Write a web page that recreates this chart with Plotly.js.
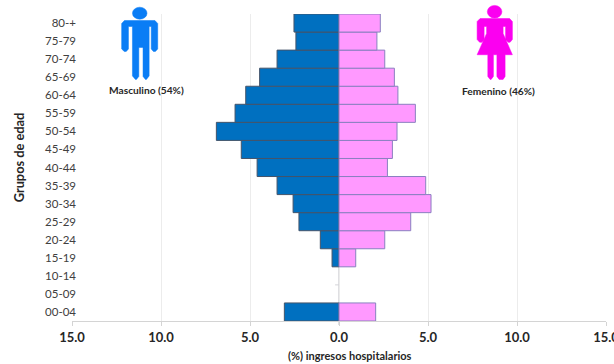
<!DOCTYPE html>
<html><head><meta charset="utf-8">
<script src="https://cdn.plot.ly/plotly-3.0.1.min.js"></script>
<style>html,body{margin:0;padding:0;background:#fff;overflow:hidden}</style></head>
<body><div id="chart" style="width:614px;height:364px;overflow:hidden"></div>
<script>
const ageGroups = ["00-04","05-09","10-14","15-19","20-24","25-29","30-34","35-39","40-44","45-49","50-54","55-59","60-64","65-69","70-74","75-79","80-+"];
const maleShare = [3.07,0,0,0.39,1.05,2.25,2.58,3.48,4.6,5.49,6.89,5.84,5.24,4.46,3.48,2.42,2.53];
const femaleShare = [2.06,0,0,0.94,2.57,4.03,5.17,4.87,2.72,3.0,3.26,4.29,3.31,3.11,2.57,2.13,2.32];
const xTicks = [-15,-10,-5,0,5,10,15];
const xTickLabels = ["15.0","10.0","5.0","0.0","5.0","10.0","15.0"];

const W=640,H=364,L=71.5,R=606,T=13.5,B=321;
const px=x=>(x-L)/(R-L), py=y=>(B-y)/(B-T);
function poly(pts){return pts.map((p,i)=>(i?'L ':'M ')+px(p[0]).toFixed(5)+' '+py(p[1]).toFixed(5)).join(' ')+' Z';}
const maleBlue='#0a7df5', femaleMag='#fb00f0';
function shp(path,color){return {type:'path',xref:'paper',yref:'paper',path:path,fillcolor:color,line:{color:color,width:0.5},layer:'above'};}
function head(cx,cy,rx,ry,color){return {type:'circle',xref:'paper',yref:'paper',x0:px(cx-rx),x1:px(cx+rx),y0:py(cy+ry),y1:py(cy-ry),fillcolor:color,line:{color:color,width:0.5},layer:'above'};}
const shapes=[
 head(139.3,12.7,7.3,6,maleBlue),
 shp(poly([[124,20],[154.5,20],[157.3,23],[157.3,48.5],[155,51],[153,51],[150.8,48.5],[150.8,26],[148.7,26],[148.7,75.5],[146,79],[145,79],[142.6,76],[142.6,47],[138.4,47],[138.4,76],[136,79],[135,79],[132,75.5],[132,26],[128,26],[128,48.5],[125.8,51],[123.8,51],[121.2,48.5],[121.2,23]]),maleBlue),
 head(494.5,11.2,7.3,6.3,femaleMag),
 shp(poly([[480,18],[509.5,18],[512.3,21],[512.3,39],[510,41.8],[508,41.8],[505.5,39],[505.5,26],[503,26],[503,33],[512.3,54.3],[505,54.3],[505,76],[503,79],[499,79],[496.8,76],[496.8,54.3],[493.3,54.3],[493.3,76],[491,79],[490,79],[487.7,76],[487.7,54.3],[477,54.3],[486.5,33],[486.5,26],[484,26],[484,39],[481.8,41.8],[479.5,41.8],[477,39],[477,21]]),femaleMag),
 {type:'line',xref:'x',yref:'paper',x0:0,x1:0,y0:py(325),y1:1,line:{color:'#d4d4d8',width:1.5},layer:'below'},
 {type:'line',xref:'x',yref:'y',x0:-0.22,x1:0,y0:1.5,y1:1.5,line:{color:'#d4d4d8',width:1},layer:'below'}
];
const outlineWidth=a=>a.map(v=>v>0?1:0);
const traces=[
 {type:'bar',orientation:'h',name:'Masculino',y:ageGroups,x:maleShare.map(v=>-v),marker:{color:'#0070c0',line:{color:'#44546a',width:outlineWidth(maleShare)}},hoverinfo:'skip'},
 {type:'bar',orientation:'h',name:'Femenino',y:ageGroups,x:femaleShare,marker:{color:'#ff99ff',line:{color:'#8a80c0',width:outlineWidth(femaleShare)}},hoverinfo:'skip'}
];
const F='Lato,"Open Sans",sans-serif';
const layout={
 width:W,height:H,showlegend:false,barmode:'relative',bargap:0,
 margin:{l:L,r:W-R,t:T,b:H-B},paper_bgcolor:'#fff',plot_bgcolor:'#fff',
 font:{family:F,color:'#404040'},
 xaxis:{range:[-15,15],tickmode:'array',tickvals:xTicks,ticktext:xTickLabels,showgrid:true,gridcolor:'#ececec',gridwidth:1,
  zeroline:false,showline:true,linecolor:'#d4d4d4',linewidth:1,ticks:'outside',ticklen:4,tickcolor:'#d4d4d4',
  tickfont:{size:13,color:'#262626',family:F,weight:700}},
 yaxis:{type:'category',categoryorder:'array',categoryarray:ageGroups,showgrid:false,zeroline:false,showline:false,ticks:'',
  tickfont:{size:11.5,color:'#404040',family:F},ticklabelstandoff:-5},
 shapes:shapes,
 annotations:[
  {xref:'paper',yref:'paper',x:px(146.5),y:py(90),xanchor:'center',yanchor:'middle',text:'Masculino (54%)',showarrow:false,font:{size:10.2,color:'#262626',weight:700}},
  {xref:'paper',yref:'paper',x:px(498),y:py(90.5),xanchor:'center',yanchor:'middle',text:'Femenino (46%)',showarrow:false,font:{size:10.2,color:'#262626',weight:700}},
  {xref:'paper',yref:'paper',x:px(18),y:py(157.5),xanchor:'center',yanchor:'middle',textangle:-90,text:'Grupos de edad',showarrow:false,font:{size:12.8,color:'#262626',weight:700}},
  {xref:'paper',yref:'paper',x:px(350),y:py(356),xanchor:'center',yanchor:'middle',text:'(%) ingresos hospitalarios',showarrow:false,font:{size:11,color:'#262626',weight:700}}
 ]
};
Plotly.newPlot('chart',traces,layout,{displayModeBar:false,staticPlot:true});
</script></body></html>
